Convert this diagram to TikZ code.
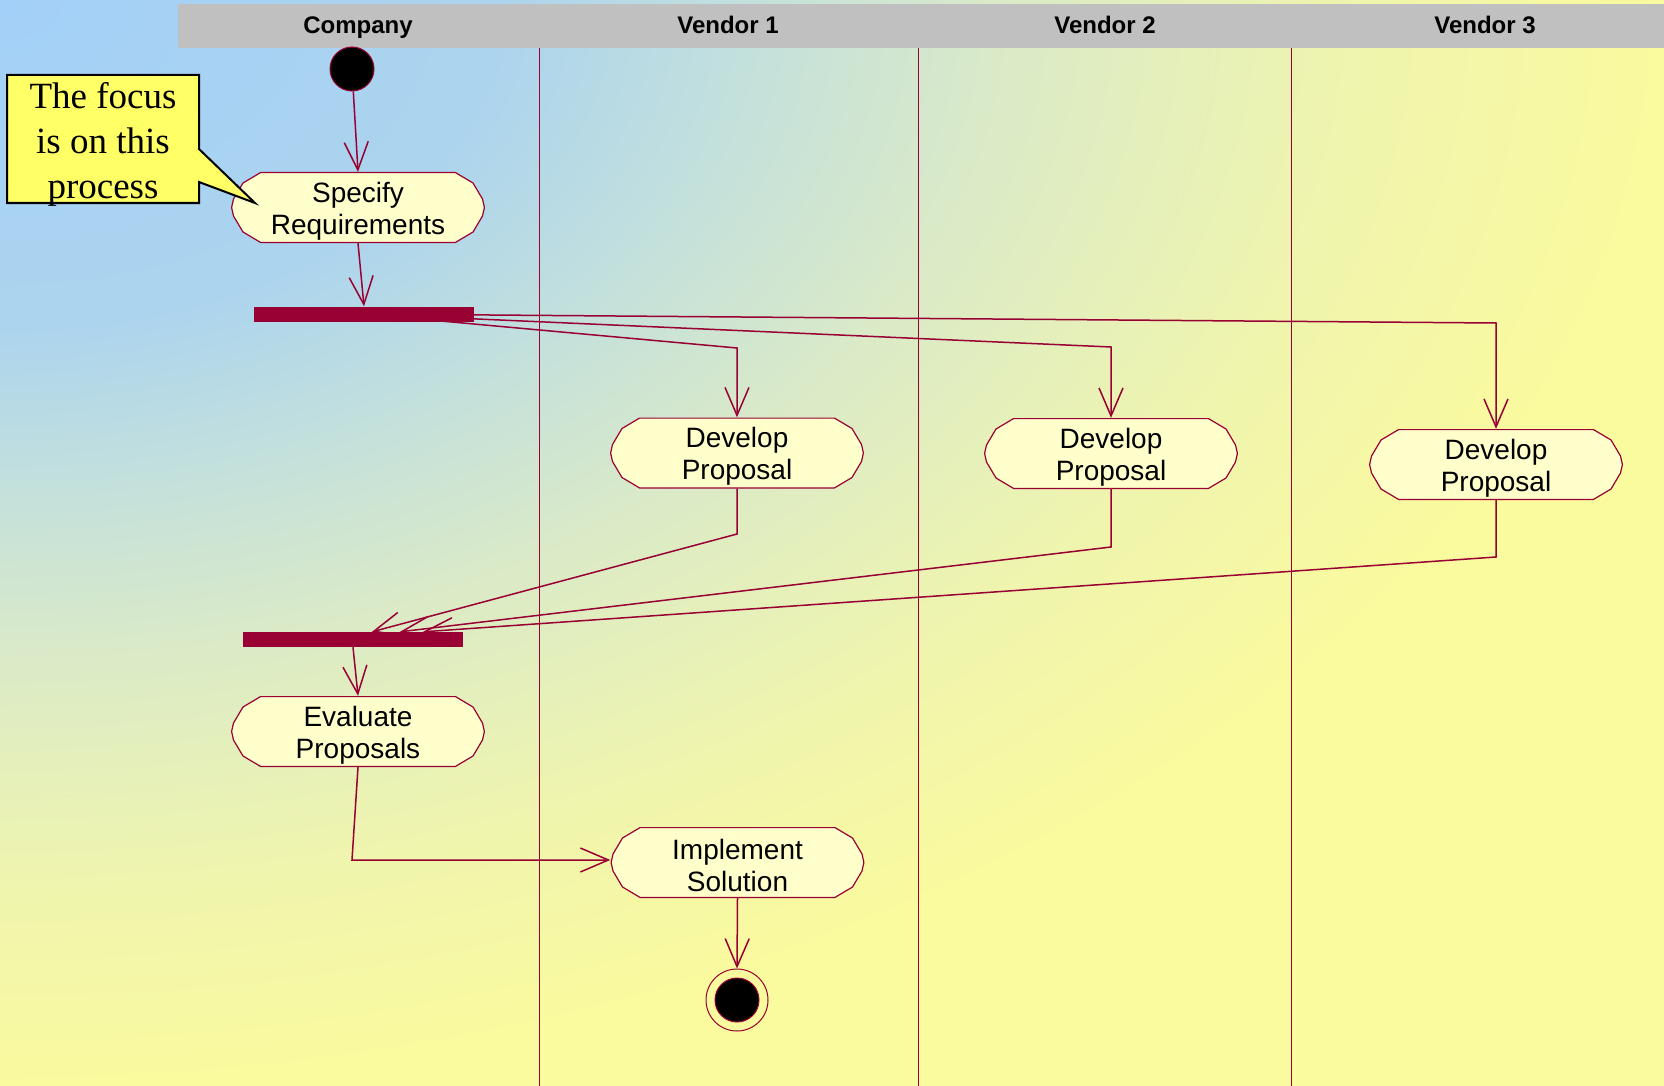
\documentclass[tikz,border=0pt]{standalone}
\usepackage{fontspec}
\setmainfont{Liberation Sans}
\newfontfamily\notefont{Liberation Serif}
\usetikzlibrary{arrows.meta,calc}
\definecolor{rose}{RGB}{153,0,51}
\definecolor{actfill}{RGB}{255,255,204}
\definecolor{hdr}{RGB}{192,192,192}
\definecolor{notefill}{RGB}{255,255,102}
\definecolor{bgA}{RGB}{163,208,248}
\definecolor{bgB}{RGB}{172,212,238}
\definecolor{bgC}{RGB}{195,224,220}
\definecolor{bgD}{RGB}{218,234,200}
\definecolor{bgE}{RGB}{238,244,175}
\definecolor{bgF}{RGB}{250,250,158}
\pgfdeclareradialshading{bgrad}{\pgfpoint{0bp}{0bp}}{color(0bp)=(bgA); color(7.5bp)=(bgB); color(11.25bp)=(bgC); color(15bp)=(bgD); color(20bp)=(bgE); color(25bp)=(bgF); color(50bp)=(bgF)}
\pgfdeclarelayer{background}
\pgfdeclarelayer{edges}
\pgfsetlayers{background,edges,main}
\newcommand\actstrut{\rule{0pt}{27pt}}
% activity: outline polygon drawn first, then the named node carrying the text
\newcommand\activity[3]{%
  \path[actpoly, shift={#2}] (-97.5,-34.9) -- (97.5,-34.9) -- (115,-24.5) -- (124.5,-8.5) -- (126.4,0)
    -- (124.5,8.5) -- (115,24.5) -- (97.5,34.9) -- (-97.5,34.9) -- (-115,24.5) -- (-124.5,8.5)
    -- (-126.4,0) -- (-124.5,-8.5) -- (-115,-24.5) -- cycle;
  \node[activity] (#1) at #2 {\actstrut #3};}
\begin{document}
\begin{tikzpicture}[x=1pt,y=-1pt,
  flow/.style={draw=rose, line width=1.5pt, -{Straight Barb[length=28pt,width=24pt,line width=1.5pt]}},
  actpoly/.style={fill=actfill, draw=rose, line width=1.2pt, line join=round},
  activity/.style={rectangle, minimum width=254pt, minimum height=71pt, inner sep=0pt, align=center,
    font=\fontsize{28}{32}\selectfont},
  syncbar/.style={rectangle, fill=rose, minimum width=220pt, minimum height=15pt, inner sep=0pt},
  lane/.style={draw=rose, line width=1pt},
  lanehead/.style={font=\bfseries\fontsize{24}{28}\selectfont, anchor=base},
  startdot/.style={circle, fill=black, draw=rose, line width=1pt, minimum size=44pt, inner sep=0pt},
  endring/.style={circle, draw=rose, line width=1pt, minimum size=62pt, inner sep=0pt},
  notetext/.style={font=\notefont\fontsize{37}{45}\selectfont, align=center, inner sep=0pt}
]
\useasboundingbox (0,0) rectangle (1664,1086);
\begin{pgfonlayer}{background}
  \begin{scope}
    \clip (0,0) rectangle (1664,1086);
    \shade[shading=bgrad] (-1664,-1086) rectangle (1664,1086);
  \end{scope}
  \fill[hdr] (178,4) rectangle (1664,48);
  \draw[lane] (539,48) -- (539,1086);
  \draw[lane] (918,48) -- (918,1086);
  \draw[lane] (1291,48) -- (1291,1086);
\end{pgfonlayer}

% lane headers
\node[lanehead] (hcomp) at (358,34) {Company};
\node[lanehead] (hv1) at (728,34) {Vendor 1};
\node[lanehead] (hv2) at (1105,34) {Vendor 2};
\node[lanehead] (hv3) at (1485,34) {Vendor 3};

% nodes
\node[startdot] (start) at (352,69) {};
\activity{spec}{(358,207.5)}{Specify\\Requirements}
\node[syncbar] (fork) at (364,314) {};
\activity{dp1}{(737,453)}{Develop\\Proposal}
\activity{dp2}{(1111,453.5)}{Develop\\Proposal}
\activity{dp3}{(1496,464.5)}{Develop\\Proposal}
\node[syncbar] (join) at (353,639.5) {};
\activity{eval}{(358,731.5)}{Evaluate\\Proposals}
\activity{impl}{(737.5,862.5)}{Implement\\Solution}
\node[endring] (endo) at (737,1000) {};
\node[startdot] (endi) at (endo.center) {};

% bend points
\coordinate (f1) at (737,348);
\coordinate (f2) at (1111,347);
\coordinate (f3) at (1496,323);
\coordinate (j1) at (737,534);
\coordinate (j2) at (1111,547);
\coordinate (j3) at (1496,557);
\coordinate (e1) at (352,860);

\begin{pgfonlayer}{edges}
  \draw[flow] (start) -- (spec.north);
  \draw[flow] (spec.south) -- (fork.north);
  \draw[flow] (fork.center) -- (f1) -- (dp1.north);
  \draw[flow] (fork.center) -- (f2) -- (dp2.north);
  \draw[flow] (fork.center) -- (f3) -- (dp3.north);
  \draw[flow] (dp1.south) -- (j1) -- ([xshift=19pt]join.north);
  \draw[flow] (dp2.south) -- (j2) -- ([xshift=47pt]join.north);
  \draw[flow] (dp3.south) -- (j3) -- ([xshift=70pt]join.north);
  \draw[flow] (join.south) -- (eval.north);
  \draw[flow] (eval.south) -- (e1) -- ([yshift=2.5pt]impl.west);
  \draw[flow] (impl.south) -- (endo.north);
\end{pgfonlayer}

% callout
\draw[fill=notefill, draw=black, line width=2pt, line join=miter] (7,75) -- (199,75) -- (199,149) -- (255,203) -- (199,182) -- (199,203) -- (7,203) -- cycle;
\node[notetext] (note) at (103,144) {The focus\\is on this\\process};
\end{tikzpicture}
\end{document}
